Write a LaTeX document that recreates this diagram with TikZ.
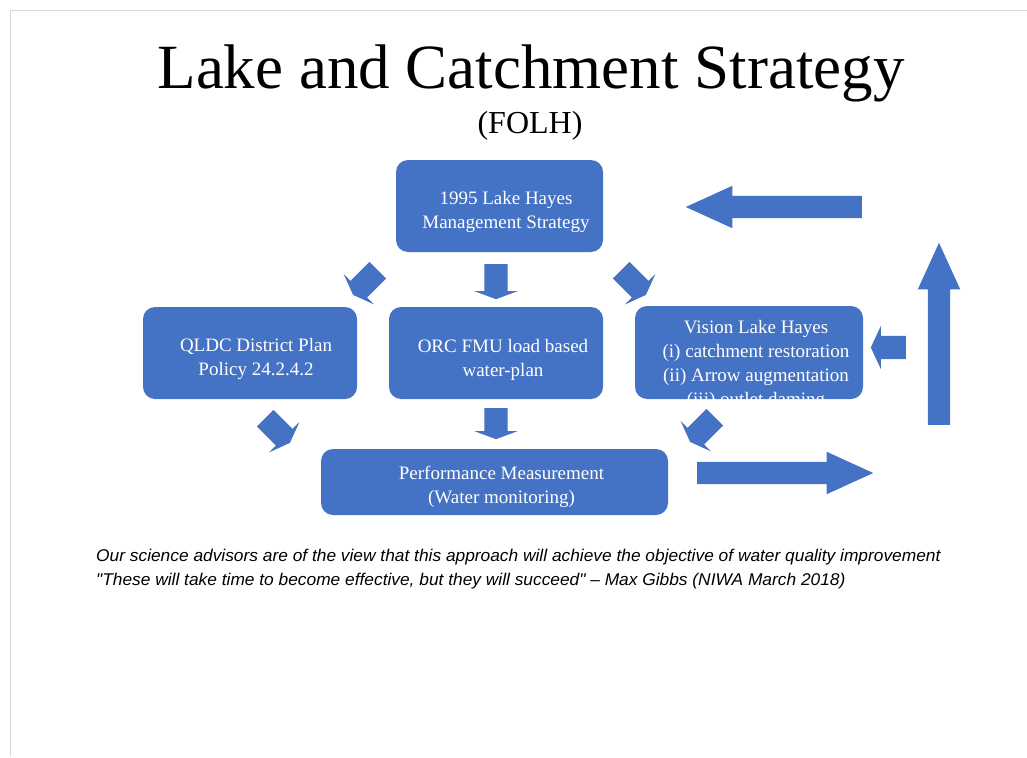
\documentclass[tikz,border=0pt]{standalone}
\usepackage{fontspec}
\setmainfont{Liberation Serif}
\newfontfamily\quotefont[FakeStretch=1.02]{Liberation Sans}
\usetikzlibrary{shapes.arrows}
\definecolor{lakeblue}{HTML}{4472C4}

\begin{document}
\begin{tikzpicture}[x=1pt,y=-1pt,{box/.style={rectangle,rounded corners=12pt,fill=lakeblue,inner sep=0pt}},{boxtext/.style={text=white,inner sep=0pt,align=center,font=\fontsize{19}{24}\selectfont}},{blockarr/.style={single arrow,anchor=tail,fill=lakeblue,inner xsep=0pt,inner ysep=11.5pt,minimum height=35pt,single arrow head extend=10pt,single arrow tip angle=139}},{bigarr/.style={single arrow,anchor=tail,fill=lakeblue,inner xsep=0pt,inner ysep=11pt,single arrow head extend=10pt,single arrow tip angle=49}}]
	\useasboundingbox (0,0) rectangle (1027,757);
	%%slide frame
	\draw [gray!30] (10,757) -- (10,10) -- (1027,10);
	%%titles
	\node [anchor=base,font=\fontsize{63}{63}\selectfont] (title) at (531,89) {Lake and Catchment Strategy};
	\node [anchor=base,font=\fontsize{32}{32}\selectfont] (folh) at (530,133) {(FOLH)};
	%%boxes
	\node [box,minimum width=207pt,minimum height=92pt] (mgmt) at (499.5,206) {};
	\node [boxtext] (mgmtlabel) at (506,212) {1995 Lake Hayes\\Management Strategy};
	\node [box,minimum width=214pt,minimum height=92pt] (qldc) at (250,353) {};
	\node [boxtext] (qldclabel) at (256,359) {QLDC District Plan\\Policy 24.2.4.2};
	\node [box,minimum width=214pt,minimum height=92pt] (orc) at (496,353) {};
	\node [boxtext] (orclabel) at (503,360) {ORC FMU load based\\water-plan};
	\node [box,minimum width=228pt,minimum height=93pt] (vision) at (749,352.5) {};
	\node [boxtext,anchor=north] (visionlabel) at (756,320) {Vision Lake Hayes\\(i) catchment restoration\\(ii) Arrow augmentation\\(iii) outlet daming};
	\node [box,minimum width=347pt,minimum height=66pt] (perf) at (494.5,482) {};
	\node [boxtext] (perflabel) at (501.5,487) {Performance Measurement\\(Water monitoring)};
	%%small arrows (placed by their tails)
	\node [blockarr,rotate=225] (aTL) at (378,270) {};
	\node [blockarr,rotate=-90] (aTM) at (496,264) {};
	\node [blockarr,rotate=-45] (aTR) at (621,270) {};
	\node [blockarr,rotate=-45] (aBL) at (265,418) {};
	\node [blockarr,rotate=-90,minimum height=31pt] (aBM) at (496,408) {};
	\node [blockarr,rotate=225] (aBR) at (715,417) {};
	\node [blockarr,rotate=180,single arrow tip angle=130] (aVis) at (906,347.5) {};
	%%big arrows
	\node [bigarr,rotate=180,minimum height=176pt] (aTop) at (862,207) {};
	\node [bigarr,rotate=90,minimum height=182pt] (aUp) at (939,425) {};
	\node [bigarr,minimum height=176pt] (aOut) at (697,473) {};
	%%quote
	\node [anchor=north west,align=left,inner sep=0pt,font=\quotefont\itshape\fontsize{17}{24}\selectfont] (quote) at (96,549) {Our science advisors are of the view that this approach will achieve the objective of water quality improvement\\"These will take time to become effective, but they will succeed" – Max Gibbs (NIWA March 2018)};
\end{tikzpicture}
\end{document}
